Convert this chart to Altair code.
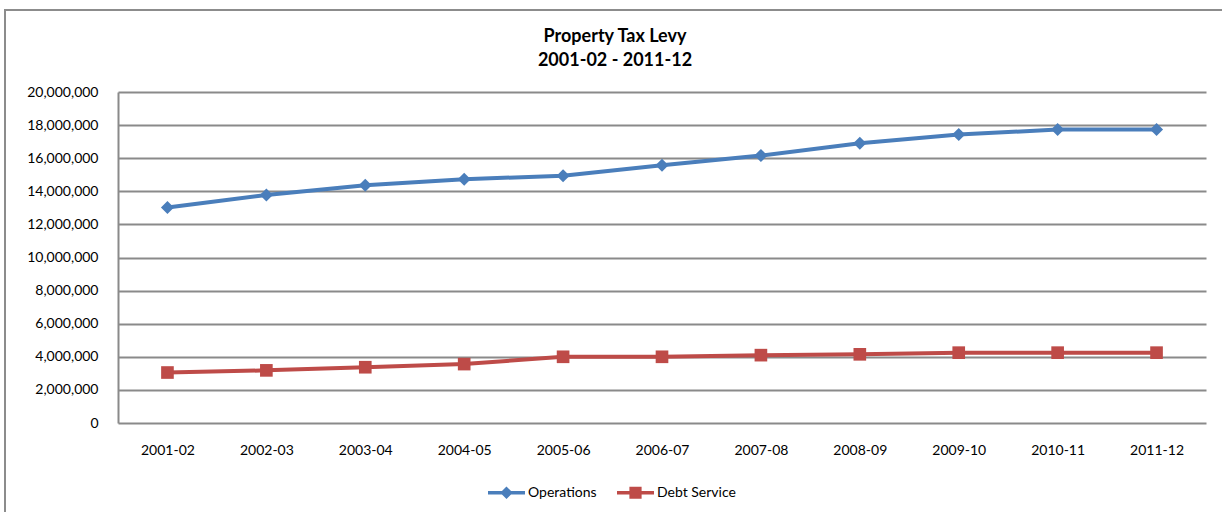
import altair as alt
import pandas as pd

years = ["2001-02", "2002-03", "2003-04", "2004-05", "2005-06", "2006-07",
         "2007-08", "2008-09", "2009-10", "2010-11", "2011-12"]
operations = [13020000, 13780000, 14370000, 14730000, 14940000, 15570000,
              16160000, 16900000, 17430000, 17730000, 17730000]
debt_service = [3050000, 3180000, 3370000, 3560000, 4000000, 4000000,
                4100000, 4150000, 4250000, 4250000, 4250000]
series = ["Operations", "Debt Service"]
colors = ["#4A7EBB", "#BE4B48"]
y_ticks = list(range(0, 20000001, 2000000))

rows = []
for yr, v in zip(years, operations):
    rows.append({"year": yr, "value": v, "series": "Operations"})
for yr, v in zip(years, debt_service):
    rows.append({"year": yr, "value": v, "series": "Debt Service"})
df = pd.DataFrame(rows)

FONT = "Lato"
GRID = "#8a8a8a"

# legend symbols: a bar with a marker in the middle
diamond_path = "M-1,-0.1H1V0.1H-1Z M0,-0.34L0.34,0L0,0.34L-0.34,0Z"
square_path = "M-1,-0.1H1V0.1H-1Z M-0.33,-0.33H0.33V0.33H-0.33Z"

x_enc = alt.X("year:N", sort=years, scale=alt.Scale(paddingInner=1, paddingOuter=0.5),
              axis=alt.Axis(title=None, labelAngle=0, domain=False, ticks=False,
                            grid=False, labelFont=FONT, labelFontSize=14,
                            labelColor="#000000", labelPadding=20))
y_enc = alt.Y("value:Q", scale=alt.Scale(domain=[0, 20000000], nice=False),
              axis=alt.Axis(title=None, values=y_ticks, format=",.0f", ticks=False,
                            domain=True, domainColor=GRID, domainWidth=2,
                            grid=True, gridColor=GRID, gridWidth=2,
                            labelFont=FONT, labelFontSize=14, labelColor="#000000",
                            labelPadding=20))

base = alt.Chart(df)
layers = []
for name, col, shp, sz in [("Operations", colors[0], "diamond", 170),
                           ("Debt Service", colors[1], "square", 160)]:
    sub = base.transform_filter(alt.datum.series == name)
    layers.append(sub.mark_line(strokeWidth=4, color=col).encode(x=x_enc, y=y_enc))
for name, col, shp, sz in [("Operations", colors[0], "diamond", 170),
                           ("Debt Service", colors[1], "square", 160)]:
    sub = base.transform_filter(alt.datum.series == name)
    layers.append(sub.mark_point(shape=shp, filled=True, size=sz, opacity=1,
                                 color=col).encode(x=x_enc, y=y_enc))

leg = dict(title=None, orient="none", direction="horizontal",
           legendX=370, legendY=382, symbolSize=1369, symbolStrokeWidth=0,
           labelFont=FONT, labelFontSize=14, labelColor="#000000",
           labelOffset=3, columnPadding=20, padding=0)
legend_layer = base.transform_filter("false").mark_point(filled=True, opacity=1).encode(
    x=x_enc, y=y_enc,
    color=alt.Color("series:N", scale=alt.Scale(domain=series, range=colors),
                    legend=alt.Legend(**leg)),
    shape=alt.Shape("series:N", scale=alt.Scale(domain=series,
                                                range=[diamond_path, square_path]),
                    legend=alt.Legend(**leg)),
)

frame = alt.Chart(pd.DataFrame({"k": [0]})).mark_rect(
    fill=None, stroke="#8c8c8c", strokeWidth=2
).encode(x=alt.value(-113), x2=alt.value(1120), y=alt.value(-82), y2=alt.value(440))

chart = alt.layer(frame, *layers, legend_layer).properties(
    width=1088, height=331,
    autosize=alt.AutoSizeParams(type="none"),
    padding={"left": 118, "top": 92, "right": 16, "bottom": 89},
    title=alt.Title(["Property Tax Levy", "2001-02 - 2011-12"], font=FONT,
                    fontSize=18, fontWeight="bold", color="#000000", anchor="middle",
                    frame="group", dx=-47, dy=61, offset=0, lineHeight=24),
    background="#ffffff",
).configure_view(stroke=None)

chart.save("out.html", embed_options={"renderer": "svg", "actions": False})
